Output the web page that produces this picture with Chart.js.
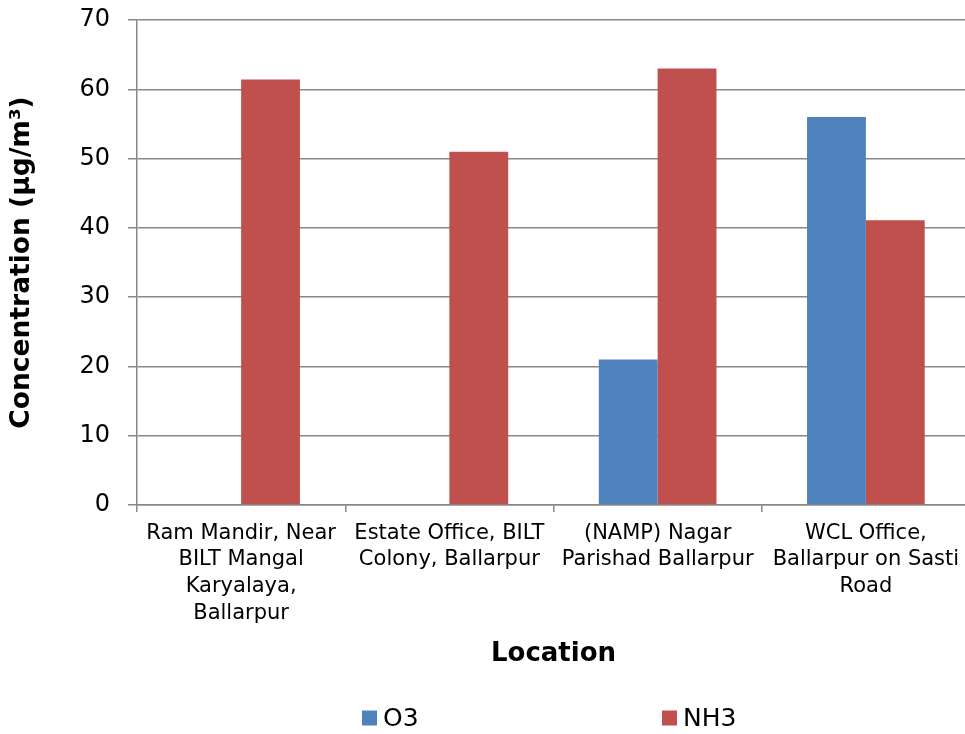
<!DOCTYPE html>
<html>
<head>
<meta charset="utf-8">
<script src="https://cdn.jsdelivr.net/npm/chart.js@4/dist/chart.umd.min.js"></script>
<style>
  html, body { margin: 0; padding: 0; background: #fff; overflow: hidden; }
  #wrap { position: relative; width: 975px; height: 734px; }
</style>
</head>
<body>
<div id="wrap"><canvas id="chart" width="975" height="734"></canvas></div>
<script>
// Monitoring locations (multi-line tick labels)
const locations = [
  ["Ram Mandir, Near", "BILT Mangal", "Karyalaya,", "Ballarpur"],
  ["Estate Office, BILT", "Colony, Ballarpur"],
  ["(NAMP) Nagar", "Parishad Ballarpur"],
  ["WCL Office,", "Ballarpur on Sasti", "Road"]
];
// Measured concentrations, µg/m³ (null = not reported)
const o3Values  = [null, null, 21, 56];
const nh3Values = [61.4, 51, 63, 41.1];
const seriesNames = ["O3", "NH3"];
const seriesColors = ["#4F81BD", "#C0504D"];
const yMin = 0, yMax = 70, yStep = 10;

const FONT = "'DejaVu Sans', Verdana, sans-serif";
const GRID = "#888888";

// Legend drawn as a single widely spaced row under the axis title
const spacedLegend = {
  id: 'spacedLegend',
  afterDraw(chart, args, opts) {
    const ctx = chart.ctx;
    ctx.save();
    ctx.font = opts.fontSize + 'px ' + FONT;
    ctx.textBaseline = 'middle';
    ctx.textAlign = 'left';
    chart.data.datasets.forEach((ds, i) => {
      const x = opts.positions[i];
      const y = opts.y;
      ctx.fillStyle = ds.backgroundColor;
      ctx.fillRect(x, y - opts.box / 2, opts.box, opts.box);
      ctx.fillStyle = '#000';
      ctx.fillText(ds.label, x + opts.box + 6, y + 1);
    });
    ctx.restore();
  }
};

new Chart(document.getElementById('chart'), {
  type: 'bar',
  data: {
    labels: locations,
    datasets: [
      { label: seriesNames[0], data: o3Values,  backgroundColor: seriesColors[0] },
      { label: seriesNames[1], data: nh3Values, backgroundColor: seriesColors[1] }
    ]
  },
  options: {
    responsive: false,
    animation: false,
    devicePixelRatio: 1,
    layout: { padding: { top: 20, right: 5, bottom: 50, left: 0 } },
    datasets: { bar: { categoryPercentage: 0.565, barPercentage: 1.0 } },
    plugins: {
      legend: { display: false },
      tooltip: { enabled: false },
      spacedLegend: { positions: [362, 662], y: 718, box: 15, fontSize: 25 }
    },
    scales: {
      x: {
        offset: true,
        afterFit(scale) { scale.height = 179; },
        grid: {
          offset: true,
          drawOnChartArea: false,
          drawTicks: true,
          tickLength: 7,
          color: GRID,
          lineWidth: 1.5
        },
        border: { color: GRID, width: 1.5 },
        ticks: {
          color: '#000',
          padding: 8,
          maxRotation: 0,
          autoSkip: false,
          font: { family: FONT, size: 21, lineHeight: 1.27 }
        },
        title: {
          display: true,
          text: 'Location',
          color: '#000',
          padding: { top: 0, bottom: 14 },
          font: { family: FONT, size: 26, weight: 'bold', lineHeight: 1.2 }
        }
      },
      y: {
        min: yMin,
        max: yMax,
        afterFit(scale) {
          scale.width = 137;
          scale.paddingTop = 0;
          scale.paddingBottom = 0;
        },
        ticks: {
          stepSize: yStep,
          color: '#000',
          padding: 18,
          font: { family: FONT, size: 24 }
        },
        grid: { color: GRID, lineWidth: 1.5, tickLength: 9 },
        border: { color: GRID, width: 1.5 },
        title: {
          display: true,
          text: 'Concentration (µg/m³)',
          color: '#000',
          padding: { top: 6, bottom: 0 },
          font: { family: FONT, size: 26.5, weight: 'bold', lineHeight: 1.2 }
        }
      }
    }
  },
  plugins: [spacedLegend]
});
</script>
</body>
</html>
